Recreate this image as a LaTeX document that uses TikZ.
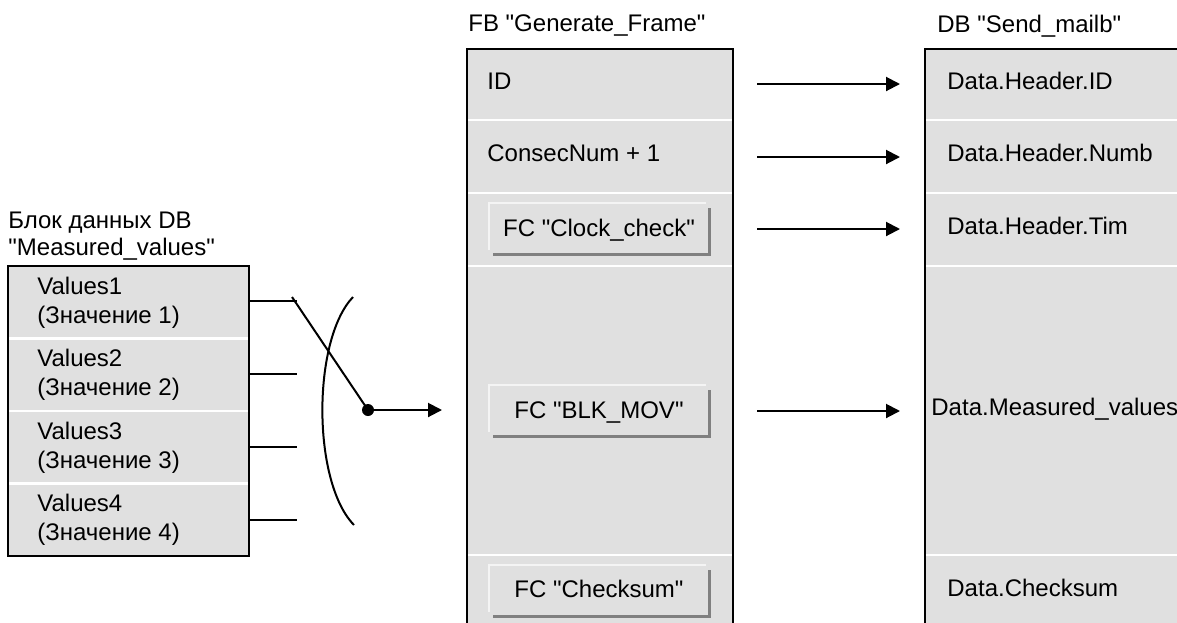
\documentclass[tikz,border=0pt]{standalone}
\usepackage{fontspec}
% plain family: no TeX ligature mapping, so " stays a straight quote
\newfontfamily\labelfont{Liberation Sans}
\usetikzlibrary{arrows.meta}
\definecolor{cellgray}{RGB}{224,224,224}
\definecolor{btndark}{RGB}{128,128,128}
\definecolor{btnlight}{RGB}{244,244,244}

\begin{document}
\begin{tikzpicture}[x=0.5pt,y=-0.5pt,
  txt/.style={anchor=base west, inner sep=0pt, font=\labelfont\fontsize{12}{14}\selectfont},
  btntxt/.style={anchor=base, inner sep=0pt, font=\labelfont\fontsize{12}{14}\selectfont},
  cellfill/.style={fill=cellgray},
  sep/.style={draw=white, line width=1.2pt},
  frame/.style={draw=black, line width=1pt},
  conn/.style={line width=1pt},
  flow/.style={line width=1pt, -{Triangle[length=7pt,width=7pt]}},
  lit/.style={draw=btnlight, line width=1.25pt},
  shade/.style={draw=btndark, line width=1.25pt},
  fcbtn/.pic={
    \path[lit] (489,47) -- (489,0) -- (706,0);
    \path[shade] (493,51.5) -- (709.5,51.5) -- (709.5,5);
  }]
\useasboundingbox (0,0) rectangle (1177,622);
\clip (0,0) rectangle (1177,622);

% ---- data block "Measured_values" ----
\fill[cellfill] (8,266) rectangle (249,556);
\foreach \y in {338.5,411,483.5} \draw[sep] (9,\y) -- (248,\y);
\draw[frame] (8,266) rectangle (249,556);
\node[txt] (mvtitle1) at (8,228) {Блок данных DB};
\node[txt] (mvtitle2) at (8,255) {"Measured\_values"};
\node[txt] (v1a) at (37,294)   {Values1};
\node[txt] (v1b) at (37,323)   {(Значение 1)};
\node[txt] (v2a) at (37,366.5) {Values2};
\node[txt] (v2b) at (37,395.5) {(Значение 2)};
\node[txt] (v3a) at (37,439)   {Values3};
\node[txt] (v3b) at (37,468)   {(Значение 3)};
\node[txt] (v4a) at (37,511.5) {Values4};
\node[txt] (v4b) at (37,540.5) {(Значение 4)};

% ---- function block "Generate_Frame" ----
\fill[cellfill] (467,49) rectangle (733,640);
\foreach \y in {120,193,266,555} \draw[sep] (468,\y) -- (732,\y);
\draw[frame] (467,640) -- (467,49) -- (733,49) -- (733,640);
\node[txt] (fbtitle) at (468,31.7) {FB "Generate\_Frame"};
\node[txt] (fbid)  at (487,89.3)  {ID};
\node[txt] (fbnum) at (487,161.7) {ConsecNum + 1};
\pic at (0,203) {fcbtn};
\pic at (0,385) {fcbtn};
\pic at (0,565) {fcbtn};
\node[btntxt] (fcclock) at (599,236.7) {FC "Clock\_check"};
\node[btntxt] (fcblk)   at (599,418.3) {FC "BLK\_MOV"};
\node[btntxt] (fcsum)   at (599,597.7) {FC "Checksum"};

% ---- data block "Send_mailb" ----
\fill[cellfill] (925,49) rectangle (1200,640);
\foreach \y in {120,193,266,555} \draw[sep] (926,\y) -- (1200,\y);
\draw[frame] (925,640) -- (925,49) -- (1200,49);
\node[txt] (dbtitle) at (937,32.3) {DB "Send\_mailb"};
\node[txt] (dhid)   at (947,89)    {Data.Header.ID};
\node[txt] (dhnumb) at (947,161)   {Data.Header.Numb};
\node[txt] (dhtim)  at (947,234)   {Data.Header.Tim};
\node[txt] (dmeas)  at (931,415.7) {Data.Measured\_values};
\node[txt] (dsum)   at (947,596)   {Data.Checksum};

% ---- selection of the measured values ----
\coordinate (v1r) at (249,301);   \coordinate (v1e) at (297,301);
\coordinate (v2r) at (249,374);   \coordinate (v2e) at (297,374);
\coordinate (v3r) at (249,447);   \coordinate (v3e) at (297,447);
\coordinate (v4r) at (249,519.5); \coordinate (v4e) at (297,519.5);
\draw[conn] (v1r) -- (v1e);
\draw[conn] (v2r) -- (v2e);
\draw[conn] (v3r) -- (v3e);
\draw[conn] (v4r) -- (v4e);
\coordinate (brtop) at (353,297);
\coordinate (brbot) at (354,525);
\draw[conn] (brtop) .. controls (312,340) and (312,482) .. (brbot);
\coordinate (swtop) at (292,297);
\coordinate (swjoin) at (368,410);
\coordinate (fbin) at (442,410);
\draw[conn] (swtop) -- (swjoin);
\fill (swjoin) circle (3pt);
\draw[flow] (swjoin) -- (fbin);

% ---- transfer into the send mailbox ----
\coordinate (a1s) at (757,84);  \coordinate (a1e) at (900,84);
\coordinate (a2s) at (757,157); \coordinate (a2e) at (900,157);
\coordinate (a3s) at (757,229); \coordinate (a3e) at (900,229);
\coordinate (a4s) at (757,411); \coordinate (a4e) at (900,411);
\draw[flow] (a1s) -- (a1e);
\draw[flow] (a2s) -- (a2e);
\draw[flow] (a3s) -- (a3e);
\draw[flow] (a4s) -- (a4e);
\end{tikzpicture}
\end{document}
